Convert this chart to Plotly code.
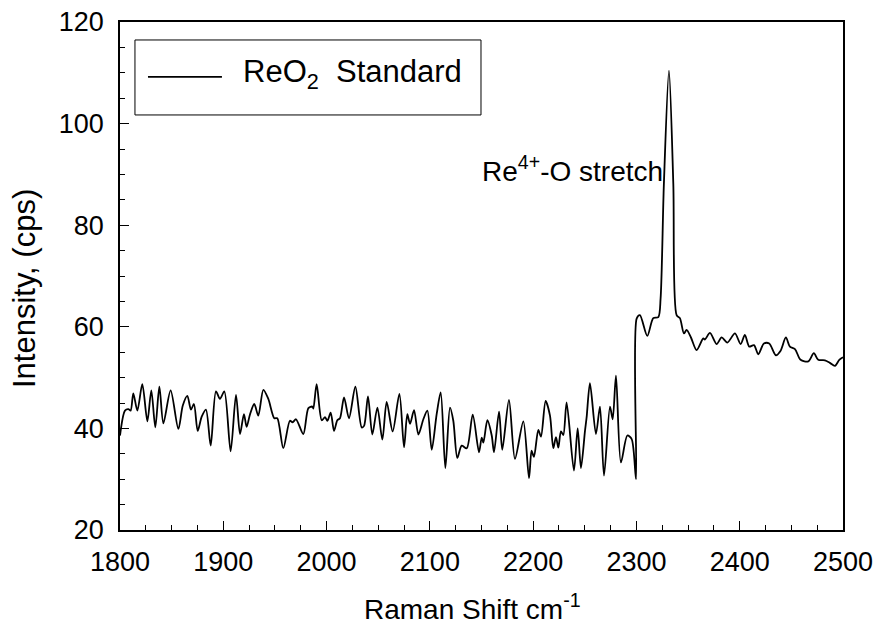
import plotly.graph_objects as go

raman_shift = [
    1800, 1804.8, 1808.1, 1810.3, 1812.9, 1816.8, 1821.6, 1826.5, 1830.3, 1834.2,
    1838.1, 1842.0, 1849.0, 1856.5, 1860.8, 1865.2, 1868.7, 1871.6, 1875.2, 1879.1,
    1883.2, 1887.8, 1892.9, 1896.8, 1901.0, 1907.1, 1912.3, 1916.2, 1920.0, 1922.6,
    1925.9, 1930.0, 1933.9, 1938.8, 1943.6, 1949.4, 1952.3, 1958.1, 1964.5, 1967.1,
    1970.4, 1977.5, 1982.4, 1986.2, 1987.2, 1990.4, 1995.3, 1998.5, 2000.8, 2004.0,
    2007.2, 2010.4, 2013.0, 2016.9, 2021.7, 2027.9, 2034.0, 2036.3, 2040.1, 2044.3,
    2049.2, 2054.0, 2058.2, 2064.0, 2070.5, 2075.0, 2078.2, 2080.8, 2084.7, 2088.9,
    2093.7, 2097.6, 2101.8, 2106.6, 2110.5, 2115.0, 2119.5, 2122.7, 2126.6, 2130.8,
    2135.7, 2141.5, 2147.6, 2150.2, 2151.8, 2155.7, 2159.9, 2162.1, 2167.0, 2170.1,
    2176.6, 2182.4, 2190.5, 2196.0, 2198.5, 2200.8, 2205.0, 2207.6, 2212.1, 2216.3,
    2219.5, 2222.1, 2224.4, 2226.9, 2229.2, 2232.4, 2239.5, 2243.1, 2246.3, 2250.2,
    2251.8, 2255.0, 2260.8, 2264.7, 2268.6, 2274.4, 2277.0, 2280.2, 2285.0, 2291.2,
    2295.4, 2299.6, 2300.2, 2303.4, 2310.5, 2316.3, 2321.2, 2323.4, 2326.6, 2331.5,
    2335.7, 2338.9, 2342.1, 2346.0, 2348.6, 2352.8, 2358.3, 2364.7, 2366.3, 2371.2,
    2377.6, 2382.5, 2388.0, 2395.4, 2400.9, 2405.0, 2409.2, 2413.8, 2418.0, 2423.4,
    2428.6, 2435.0, 2439.6, 2444.7, 2448.6, 2453.5, 2458.9, 2466.4, 2471.8, 2476.0,
    2482.5, 2487.3, 2492.2, 2496.4, 2500.0,
]

intensity = [
    38.6, 43.5, 43.8, 43.5, 46.9, 43.5, 48.7, 41.4, 47.5, 40.2,
    48.2, 41.0, 47.5, 39.9, 44.5, 46.4, 43.7, 44.8, 39.5, 42.3,
    43.7, 36.6, 47.3, 45.8, 47.3, 35.5, 46.6, 38.9, 42.8, 40.3,
    42.8, 44.8, 42.5, 47.6, 45.8, 42.0, 42.0, 36.1, 41.5, 41.2,
    41.8, 38.9, 44.0, 44.3, 43.9, 48.7, 41.6, 42.2, 41.5, 43.1,
    39.5, 41.6, 42.0, 46.1, 42.0, 48.2, 40.2, 40.5, 46.3, 38.8,
    44.1, 37.8, 45.2, 39.4, 46.8, 36.3, 42.8, 40.9, 43.6, 38.8,
    41.8, 43.5, 35.8, 42.8, 47.1, 32.2, 44.1, 41.5, 34.2, 36.6,
    36.1, 42.7, 35.3, 38.2, 37.2, 41.6, 38.6, 35.3, 43.3, 35.8,
    45.6, 34.0, 41.4, 30.2, 35.6, 34.4, 39.7, 38.4, 45.4, 42.5,
    36.1, 38.3, 36.2, 39.4, 38.7, 45.1, 31.7, 40.0, 32.2, 39.5,
    42.2, 48.9, 38.9, 44.3, 30.7, 44.3, 41.8, 50.4, 33.3, 38.6,
    37.9, 30.0, 61.6, 62.3, 58.2, 61.7, 61.9, 65.6, 88.2, 110.4,
    88.2, 62.3, 61.7, 58.7, 59.4, 57.9, 55.4, 57.7, 57.5, 58.8,
    56.6, 57.9, 56.9, 58.7, 56.6, 58.4, 56.1, 56.4, 54.6, 56.7,
    56.7, 54.4, 55.3, 57.9, 56.1, 55.6, 53.5, 53.2, 54.8, 53.5,
    53.4, 52.9, 52.3, 53.5, 54.0,
]

x_ticks = [1800, 1900, 2000, 2100, 2200, 2300, 2400, 2500]
y_ticks = [20, 40, 60, 80, 100, 120]

FONT = "Liberation Sans, Arial, sans-serif"

fig = go.Figure()
fig.add_trace(go.Scatter(
    x=raman_shift, y=intensity, mode="lines",
    line=dict(color="black", width=1.8, shape="spline", smoothing=0.8),
    name="ReO<sub>2</sub>  Standard", showlegend=False,
))

axis_common = dict(
    showline=True, linecolor="black", linewidth=1.5, mirror=True,
    ticks="inside", ticklen=9, tickwidth=1, tickcolor="black",
    showgrid=False, zeroline=False, automargin=False,
    tickfont=dict(family=FONT, size=27, color="black"),
)

fig.update_xaxes(
    range=[1800, 2500], tickvals=x_ticks, ticktext=[str(v) for v in x_ticks],
    minor=dict(dtick=25, ticks="inside", ticklen=5, tickwidth=1, tickcolor="black", showgrid=False),
    ticklabelstandoff=7,
    **axis_common,
)
fig.update_yaxes(
    range=[20, 120], tickvals=y_ticks, ticktext=[str(v) for v in y_ticks],
    minor=dict(dtick=5, ticks="inside", ticklen=5, tickwidth=1, tickcolor="black", showgrid=False),
    ticklabelstandoff=9,
    **axis_common,
)

# Axis titles
fig.add_annotation(xref="paper", yref="paper", x=0.488, y=-0.152,
                   xanchor="center", yanchor="middle", showarrow=False,
                   text="Raman Shift cm<sup>-1</sup>",
                   font=dict(family=FONT, size=28, color="black"))
fig.add_annotation(xref="paper", yref="paper", x=-0.133, y=0.476,
                   xanchor="center", yanchor="middle", showarrow=False,
                   textangle=-90, text="Intensity, (cps)",
                   font=dict(family=FONT, size=31, color="black"))

# Legend drawn as a box with sample line and label
fig.add_shape(type="rect", xref="paper", yref="paper",
              x0=0.0207, x1=0.4993, y0=0.817, y1=0.9646,
              line=dict(color="black", width=1), fillcolor="white", layer="above")
fig.add_shape(type="line", xref="paper", yref="paper",
              x0=0.0387, x1=0.141, y0=0.892, y1=0.892,
              line=dict(color="black", width=1.6))
fig.add_annotation(xref="paper", yref="paper", x=0.168, y=0.897,
                   xanchor="left", yanchor="middle", showarrow=False,
                   text="ReO<sub>2</sub>  Standard",
                   font=dict(family=FONT, size=31, color="black"))

fig.add_annotation(x=2238.5, y=91.0, xref="x", yref="y", showarrow=False,
                   xanchor="center", yanchor="middle",
                   text="Re<sup>4+</sup>-O stretch",
                   font=dict(family=FONT, size=28, color="black"))

fig.update_layout(
    width=878, height=630,
    margin=dict(l=120, r=35, t=22, b=100),
    paper_bgcolor="white", plot_bgcolor="white",
    font=dict(family=FONT, color="black"),
)

fig.write_html("out.html")
